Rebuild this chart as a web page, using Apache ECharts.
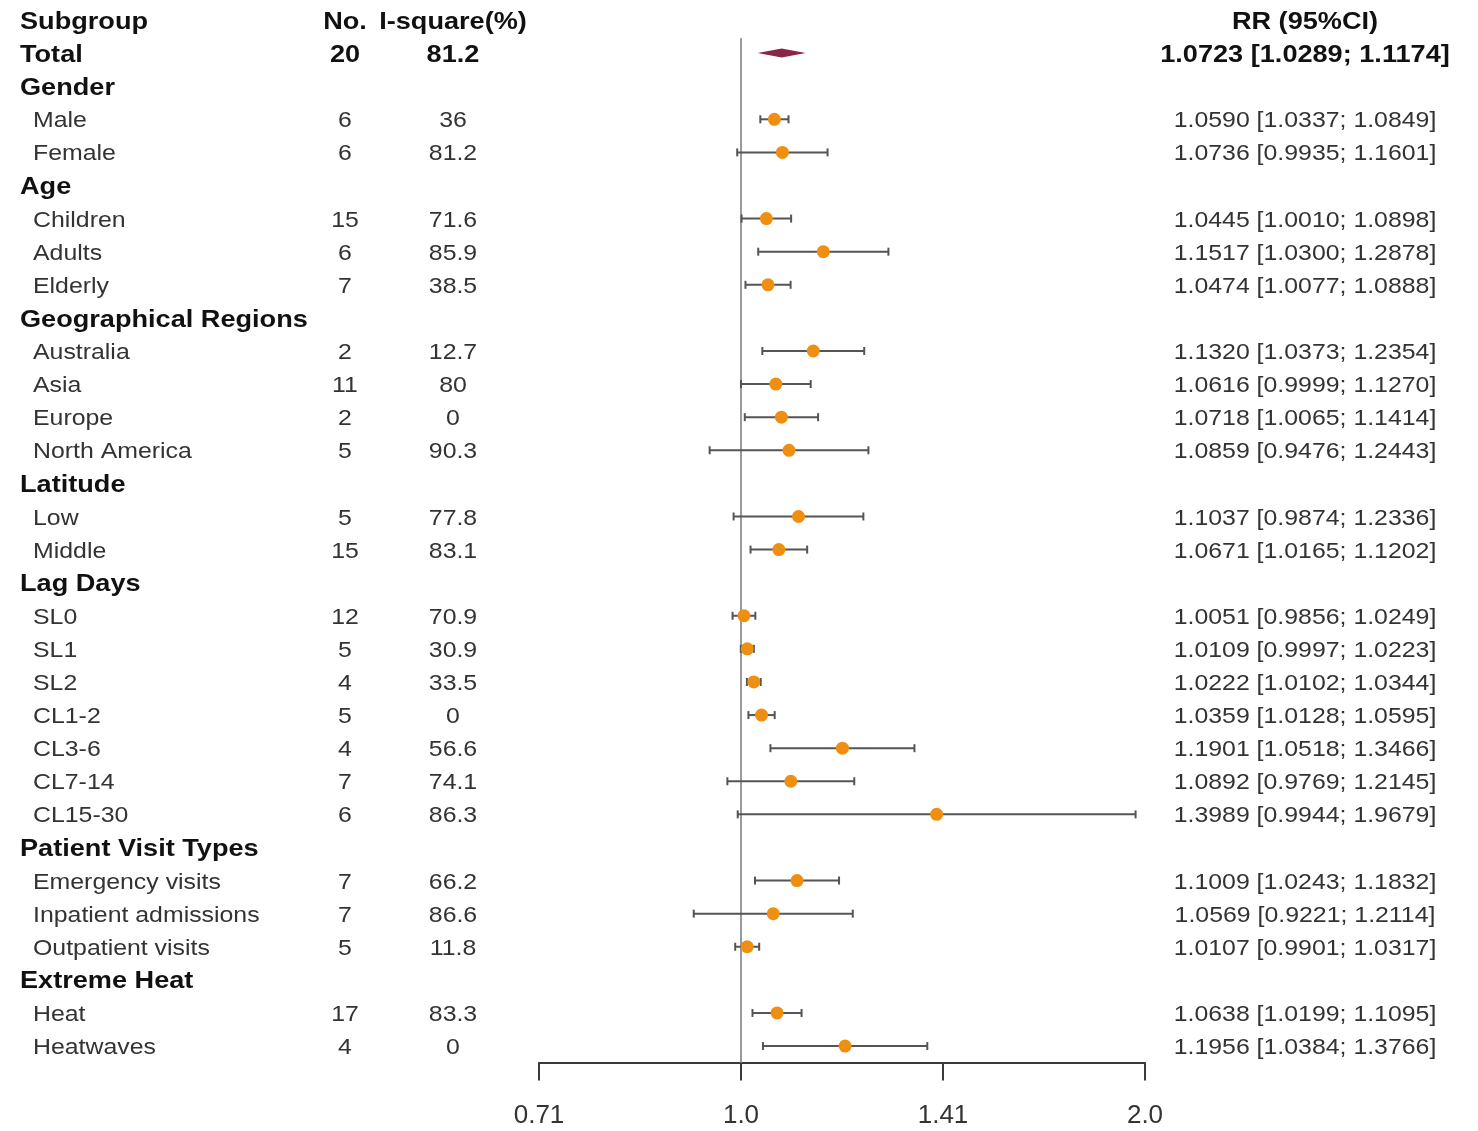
<!DOCTYPE html>
<html><head><meta charset="utf-8">
<script src="https://cdn.jsdelivr.net/npm/echarts@6/dist/echarts.min.js"></script>
<style>html,body{margin:0;padding:0;background:#fff}#c{width:1478px;height:1131px}</style>
</head><body><div id="c"></div>
<script>
// ---- data ----
const subgroups = ['Total','Gender','Male','Female','Age','Children','Adults','Elderly','Geographical Regions','Australia','Asia','Europe','North America','Latitude','Low','Middle','Lag Days','SL0','SL1','SL2','CL1-2','CL3-6','CL7-14','CL15-30','Patient Visit Types','Emergency visits','Inpatient admissions','Outpatient visits','Extreme Heat','Heat','Heatwaves'];
const studies = [20,null,6,6,null,15,6,7,null,2,11,2,5,null,5,15,null,12,5,4,5,4,7,6,null,7,7,5,null,17,4];
const iSquare = ['81.2',null,'36','81.2',null,'71.6','85.9','38.5',null,'12.7','80','0','90.3',null,'77.8','83.1',null,'70.9','30.9','33.5','0','56.6','74.1','86.3',null,'66.2','86.6','11.8',null,'83.3','0'];
const rr = [1.0723,null,1.0590,1.0736,null,1.0445,1.1517,1.0474,null,1.1320,1.0616,1.0718,1.0859,null,1.1037,1.0671,null,1.0051,1.0109,1.0222,1.0359,1.1901,1.0892,1.3989,null,1.1009,1.0569,1.0107,null,1.0638,1.1956];
const lower = [1.0289,null,1.0337,0.9935,null,1.0010,1.0300,1.0077,null,1.0373,0.9999,1.0065,0.9476,null,0.9874,1.0165,null,0.9856,0.9997,1.0102,1.0128,1.0518,0.9769,0.9944,null,1.0243,0.9221,0.9901,null,1.0199,1.0384];
const upper = [1.1174,null,1.0849,1.1601,null,1.0898,1.2878,1.0888,null,1.2354,1.1270,1.1414,1.2443,null,1.2336,1.1202,null,1.0249,1.0223,1.0344,1.0595,1.3466,1.2145,1.9679,null,1.1832,1.2114,1.0317,null,1.1095,1.3766];
const headers = ['Subgroup','No.','I-square(%)','RR (95%CI)'];
const xTickLabels = ['0.71','1.0','1.41','2.0'];

// ---- layout / style ----
const FONT = "'Liberation Sans', Arial, sans-serif";
const SX = 1.13;
const TEXT_DY = 2;
const COL = {label:20, indent:33, n:345, i2:453, rr:1305};
const ORANGE = '#EF8F12';
const BAR = '#555555';
const DIAMOND = '#8B2448';
const lg = v => Math.log2(v);

// text entries derived from data
const texts = [];
texts.push({row:0, x:COL.label, align:'left', bold:true, text:headers[0]});
texts.push({row:0, x:COL.n, align:'center', bold:true, text:headers[1]});
texts.push({row:0, x:COL.i2, align:'center', bold:true, text:headers[2]});
texts.push({row:0, x:COL.rr, align:'center', bold:true, text:headers[3]});
subgroups.forEach((s,i)=>{
  const row = i+1;
  const isTotal = i===0;
  const isGroup = studies[i]===null;
  const bold = isTotal || isGroup;
  texts.push({row, x:(bold?COL.label:COL.indent), align:'left', bold, text:s});
  if(!isGroup){
    texts.push({row, x:COL.n, align:'center', bold, text:String(studies[i])});
    texts.push({row, x:COL.i2, align:'center', bold, text:iSquare[i]});
    texts.push({row, x:COL.rr, align:'center', bold, text:rr[i].toFixed(4)+' ['+lower[i].toFixed(4)+'; '+upper[i].toFixed(4)+']'});
  }
});

const barData = [], pointData = [];
subgroups.forEach((s,i)=>{
  if(i===0 || rr[i]===null) return;
  barData.push([lg(lower[i]), lg(upper[i]), i+1]);
  pointData.push([lg(rr[i]), i+1]);
});
const totalData = [[lg(lower[0]), lg(upper[0]), lg(rr[0]), 1]];

const chart = echarts.init(document.getElementById('c'), null, {renderer:'canvas'});
chart.setOption({
  animation:false,
  backgroundColor:'#fff',
  grid:{left:539, width:606, top:20, height:1042.6},
  xAxis:{type:'value', position:'bottom', min:-0.5, max:1, interval:0.5,
    axisLine:{show:true, onZero:false, lineStyle:{color:'#3a3a3a', width:2}},
    axisTick:{show:true, inside:false, length:18, lineStyle:{color:'#3a3a3a', width:2}},
    splitLine:{show:false},
    axisLabel:{margin:40, fontSize:26, fontFamily:FONT, color:'#333',
      formatter:v=>xTickLabels[Math.round((v+0.5)/0.5)]}
  },
  yAxis:{type:'value', inverse:true, min:0, max:31.5, show:false},
  series:[
    {type:'custom', clip:false, silent:true, data:[[0,0.55,31.5]], z:1,
     renderItem:(p,api)=>{
       const a = api.coord([api.value(0), api.value(1)]);
       const b = api.coord([api.value(0), api.value(2)]);
       return {type:'line', shape:{x1:a[0],y1:a[1],x2:b[0],y2:b[1]}, style:{stroke:'#9a9a9a', lineWidth:2}};
     }},
    {type:'custom', clip:false, silent:true, data:barData, z:2,
     renderItem:(p,api)=>{
       const a = api.coord([api.value(0), api.value(2)]);
       const b = api.coord([api.value(1), api.value(2)]);
       const h = 4, st = {stroke:BAR, lineWidth:2};
       return {type:'group', children:[
         {type:'line', shape:{x1:a[0],y1:a[1],x2:b[0],y2:b[1]}, style:st},
         {type:'line', shape:{x1:a[0],y1:a[1]-h,x2:a[0],y2:a[1]+h}, style:st},
         {type:'line', shape:{x1:b[0],y1:b[1]-h,x2:b[0],y2:b[1]+h}, style:st}
       ]};
     }},
    {type:'scatter', data:pointData, symbol:'circle', symbolSize:13, z:3,
     itemStyle:{color:ORANGE, opacity:1}},
    {type:'custom', clip:false, silent:true, data:totalData, z:3,
     renderItem:(p,api)=>{
       const a = api.coord([api.value(0), api.value(3)]);
       const b = api.coord([api.value(1), api.value(3)]);
       const m = api.coord([api.value(2), api.value(3)]);
       const h = 4.5;
       return {type:'polygon', shape:{points:[[a[0],a[1]],[m[0],m[1]-h],[b[0],b[1]],[m[0],m[1]+h]]},
         style:{fill:DIAMOND}};
     }},
    {type:'custom', clip:false, silent:true, data:texts.map((t,k)=>[0,t.row,k]), z:5,
     renderItem:(p,api)=>{
       const t = texts[api.value(2)];
       const y = api.coord([0, api.value(1)])[1] + TEXT_DY;
       return {type:'text', x:t.x, y:y, scaleX:SX,
         style:{text:t.text, fontFamily:FONT, fontSize:t.bold?24:22, fontWeight:t.bold?'bold':'normal',
           fill:t.bold?'#111':'#333', align:t.align, verticalAlign:'middle'}};
     }}
  ]
});
</script>
</body></html>
